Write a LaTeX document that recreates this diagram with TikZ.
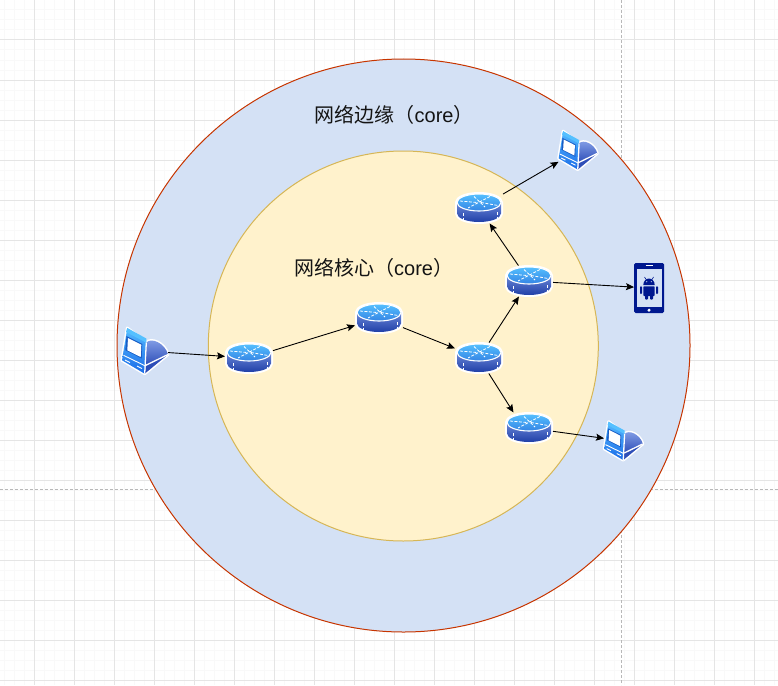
\documentclass[tikz,border=0pt]{standalone}
\usepackage{fontspec}
\setmainfont{Liberation Sans}
\newfontfamily\cjkfont{Noto Sans CJK SC}
\usetikzlibrary{arrows.meta}
\definecolor{edgefill}{HTML}{D4E1F5}
\definecolor{edgeline}{HTML}{C73500}
\definecolor{corefill}{HTML}{FFF2CC}
\definecolor{coreline}{HTML}{D6B656}
\definecolor{navy}{HTML}{00188F}
\definecolor{toplight}{HTML}{55C0FF}
\definecolor{topdark}{HTML}{3484E4}
\definecolor{sidelight}{HTML}{8AA5EA}
\definecolor{sidedark}{HTML}{2040A8}
\definecolor{facelight}{HTML}{55BBFF}
\definecolor{facedark}{HTML}{1B6CE8}
\definecolor{humplight}{HTML}{8AA5EA}
\definecolor{humpdark}{HTML}{2E4EB8}
\tikzset{
  minorgrid/.style={draw=black!2.5,line width=1pt},
  majorgrid/.style={draw=black!10,line width=1pt},
  guide/.style={draw=black!28,line width=.8pt,dash pattern=on 3pt off 2pt},
  edgecircle/.style={draw=edgeline,fill=edgefill,line width=1pt},
  corecircle/.style={draw=coreline,fill=corefill,line width=1pt},
  link/.style={draw=black,line width=.9pt,-{Stealth[length=8pt,width=7pt,inset=1.5pt]}},
  hub/.style={inner sep=0pt,outer sep=0pt,minimum width=48pt,minimum height=31pt},
  pc/.style={inner sep=0pt,outer sep=0pt,minimum width=46pt,minimum height=48pt},
  pcsmall/.style={inner sep=0pt,outer sep=0pt,minimum width=39pt,minimum height=41pt},
  mobile/.style={inner sep=0pt,outer sep=0pt,minimum width=30pt,minimum height=50pt},
  lbl/.style={anchor=west,inner sep=0pt,font=\fontsize{20pt}{24pt}\selectfont,text=black!92},
  wline/.style={draw=white,line width=.9pt},
  wdash/.style={draw=white,line width=.8pt,dash pattern=on 3pt off 1.5pt},
  pics/routericon/.style={code={
    \path[draw=white,line width=4pt,fill=white,line join=round]
      (-22,-5.5) -- (-22,5.5) arc[start angle=180,end angle=360,x radius=22pt,y radius=8.5pt]
      -- (22,-5.5) arc[start angle=0,end angle=180,x radius=22pt,y radius=8.5pt] -- cycle;
    \path[top color=sidelight,bottom color=sidedark]
      (-22,-5.5) -- (-22,5.5) arc[start angle=180,end angle=360,x radius=22pt,y radius=8.5pt]
      -- (22,-5.5) arc[start angle=0,end angle=180,x radius=22pt,y radius=8.5pt] -- cycle;
    \path[draw=white,line width=1.1pt,top color=toplight,bottom color=topdark]
      (0,-5.5) ellipse[x radius=22pt,y radius=8.5pt];
    \path[wdash] (-19,-7) -- (-2,-5.5) (2,-5.5) -- (19,-2.5);
    \path[wdash] (11,-11.5) -- (-11,0);
    \path[wdash] (-5,-11.5) -- (6,-1);
    \path[wdash] (-16,5) -- (-16,13) (18,4) -- (18,11);
  }},
  pics/pcicon/.style={code={
    \path[draw=white,line width=3pt,fill=white,line join=round]
      (-17.7,-23) -- (1.3,-8.3) .. controls (6,-14) and (20,-8) .. (23,3.5)
      -- (-.3,22.7) -- (-23,9.3) -- cycle;
    \path[top color=facelight,bottom color=facedark]
      (-17.7,-23) -- (1.3,-8.3) -- (-.3,22.7) -- (-23,9.3) -- cycle;
    \path[fill=toplight] (-17.7,-23) -- (1.3,-12.5) -- (1.3,-8.3) -- (-19,-19) -- cycle;
    \path[top color=humplight,bottom color=humpdark]
      (1.3,-8.3) .. controls (6,-14) and (20,-8) .. (23,3.5) -- (.8,14.3) -- cycle;
    \path[fill=humpdark] (23,3.5) -- (-.3,22.7) -- (.8,14.3) -- cycle;
    \path[fill=facedark!85!black] (-18.5,-15) -- (-2.7,-7) -- (-3.3,7.5) -- (-19.7,-.8) -- cycle;
    \path[fill=white] (-17,-13) -- (-3.7,-6.3) -- (-4.3,6) -- (-17.7,-.7) -- cycle;
    \path[wline,line width=1.3pt] (1.3,-8.3) -- (-.3,22.7);
    \path[wline,line width=1.3pt] (23,3.5) -- (.8,14.3);
    \path[wline] (-21.5,4.3) -- (-.3,14.6);
    \path[wline] (-20,9) -- (-15,11.5) (-8,15) -- (-3,17.5);
  }},
  pics/phoneicon/.style={code={
    \path[fill=navy,rounded corners=1.5pt] (-15,-25) rectangle (15,25);
    \path[fill=edgefill] (-12,-19) rectangle (12.5,19.3);
    \path[draw=white,line width=1pt] (-3.5,-22.2) -- (3.5,-22.2);
    \path[fill=white] (0,22.2) circle[radius=1.7pt];
    \path[fill=navy] (-5.7,-3) arc[start angle=180,end angle=360,x radius=5.7pt,y radius=-6.5pt] -- cycle;
    \path[fill=navy,rounded corners=.8pt] (-5.7,-1.7) rectangle (5.7,8);
    \path[fill=navy,rounded corners=.8pt] (-4,6) rectangle (-1,11.5);
    \path[fill=navy,rounded corners=.8pt] (1,6) rectangle (4,11.5);
    \path[fill=navy,rounded corners=.8pt] (-9,-1.7) rectangle (-7,6);
    \path[fill=navy,rounded corners=.8pt] (7,-1.7) rectangle (9,6);
    \path[draw=navy,line width=.6pt] (-3,-8.5) -- (-4.5,-11) (3,-8.5) -- (4.5,-11);
    \path[fill=edgefill] (-2.3,-6.3) circle[radius=.6pt] (2.3,-6.3) circle[radius=.6pt];
  }},
}
\begin{document}
\begin{tikzpicture}[x=1pt,y=-1pt]
\useasboundingbox (0,0) rectangle (778,685);
\fill[white] (0,0) rectangle (778,685);
% grid
\foreach \gx in {4,14,...,774} \draw[minorgrid] (\gx,0) -- (\gx,685);
\foreach \gy in {10,20,...,680} \draw[minorgrid] (0,\gy) -- (778,\gy);
\foreach \gx in {34,74,...,774} \draw[majorgrid] (\gx,0) -- (\gx,685);
\foreach \gy in {40,80,...,680} \draw[majorgrid] (0,\gy) -- (778,\gy);
\draw[guide] (621,0) -- (621,685);
\draw[guide] (0,489.5) -- (778,489.5);
% zones
\path[edgecircle] (403.5,345.5) circle[radius=286.5pt];
\path[corecircle] (403.3,346) circle[radius=195pt];
\node[lbl] (edgelabel) at (314.5,115) {{\cjkfont 网络边缘（}core{\cjkfont ）}};
\node[lbl] (corelabel) at (294,268) {{\cjkfont 网络核心（}core{\cjkfont ）}};
% icons
\pic at (249,358) {routericon};
\pic at (379,318) {routericon};
\pic at (479,358) {routericon};
\pic at (529,281) {routericon};
\pic at (479,208) {routericon};
\pic at (529,428) {routericon};
\pic at (145,351) {pcicon};
\pic[scale=.84] at (578,150.5) {pcicon};
\pic[scale=.84] at (623.5,441) {pcicon};
\pic at (649,288) {phoneicon};
% named nodes
\node[hub] (r1) at (249,358) {};
\node[hub] (r2) at (379,318) {};
\node[hub] (r3) at (479,358) {};
\node[hub] (r4) at (529,281) {};
\node[hub] (r5) at (479,208) {};
\node[hub] (r6) at (529,428) {};
\node[pc] (c1) at (145,351) {};
\node[pcsmall] (c2) at (578,150.5) {};
\node[pcsmall] (c3) at (623.5,441) {};
\node[mobile] (p1) at (649,288) {};
% links
\draw[link] (c1) -- (r1);
\draw[link] (r1) -- (r2);
\draw[link] (r2) -- (r3);
\draw[link] (r3) -- (r4);
\draw[link] (r3) -- (r6.135);
\draw[link] (r4) -- (r5);
\draw[link] (r5) -- (c2);
\draw[link] (r4) -- (p1);
\draw[link] (r6) -- (c3);
\end{tikzpicture}
\end{document}
